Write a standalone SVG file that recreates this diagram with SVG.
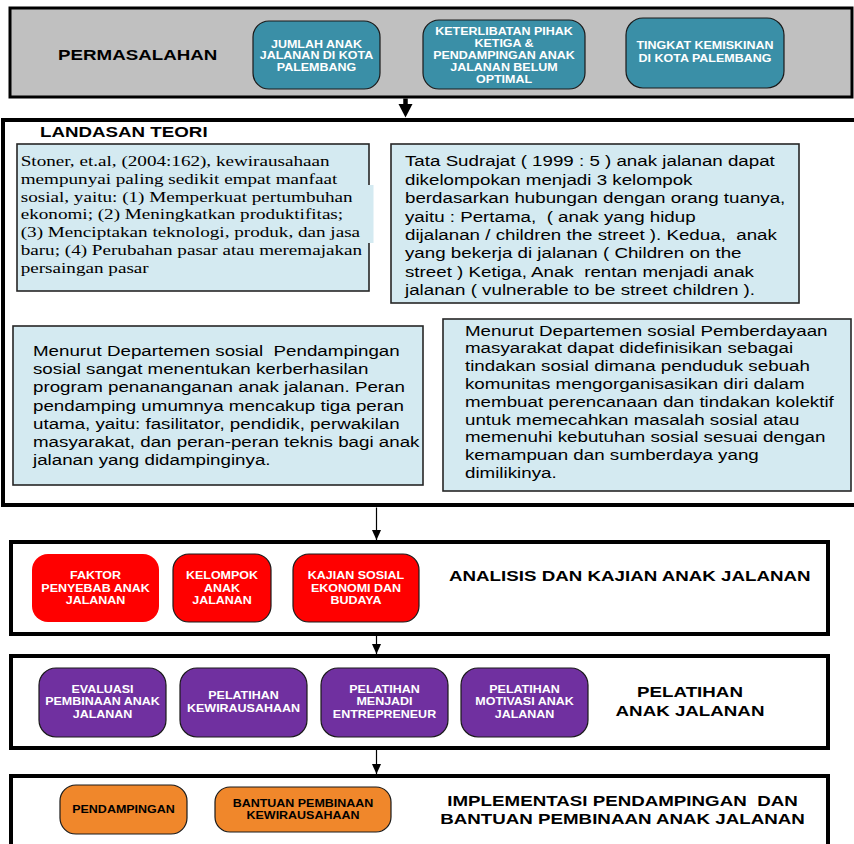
<svg xmlns="http://www.w3.org/2000/svg" width="854" height="844" viewBox="0 0 854 844">
<style>
text{white-space:pre}
.h{font-family:"Liberation Sans",Arial,sans-serif;font-weight:bold;font-size:15px;fill:#000}
.bx{font-family:"Liberation Sans",Arial,sans-serif;font-weight:bold;font-size:10px;text-anchor:middle;fill:#fff}
.bxk{font-family:"Liberation Sans",Arial,sans-serif;font-weight:bold;font-size:10px;text-anchor:middle;fill:#000}
.ser{font-family:"Liberation Serif","Times New Roman",serif;font-size:15.2px;fill:#000}
.san{font-family:"Liberation Sans",Arial,sans-serif;font-size:15px;fill:#000}
.sec{fill:#fff;stroke:#000;stroke-width:4}
.note{fill:#D4EAF1;stroke:#262626;stroke-width:1.6}
.teal{fill:#3A8FA7;stroke:#1a1a1a;stroke-width:1.2}
.red{fill:#FF0000;stroke:#1a1a1a;stroke-width:1.2}
.pur{fill:#7030A0;stroke:#1a1a1a;stroke-width:1.2}
.org{fill:#F0872B;stroke:#1a1a1a;stroke-width:1.2}
.conn{stroke:#000;stroke-width:1.2;fill:none}
</style>
<defs>
<marker id="ah" markerUnits="userSpaceOnUse" markerWidth="10" markerHeight="11" refX="11" refY="5" orient="auto" viewBox="0 0 11 10">
<path d="M0,0 L11,5 L0,10 z" fill="#000"/>
</marker>
</defs>

<g id="permasalahan">
<rect x="10" y="8" width="842" height="89" fill="#C0C0C0" stroke="#000" stroke-width="3"/>
<text class="h" transform="matrix(1.25 0 0 1 58 0)" x="0" y="60.5">PERMASALAHAN</text>
</g>
<g id="n-jumlah">
<rect class="teal" x="253" y="21" width="127" height="68" rx="16"/>
<text class="bx" transform="matrix(1.25 0 0 1 316.5 0)"><tspan x="0" y="48">JUMLAH ANAK</tspan><tspan x="0" y="59.5">JALANAN DI KOTA</tspan><tspan x="0" y="71">PALEMBANG</tspan></text>
</g>
<g id="n-keterlibatan">
<rect class="teal" x="423" y="20" width="162" height="69" rx="16"/>
<text class="bx" transform="matrix(1.25 0 0 1 504 0)"><tspan x="0" y="34.6">KETERLIBATAN PIHAK</tspan><tspan x="0" y="46.6">KETIGA &amp;</tspan><tspan x="0" y="58.6">PENDAMPINGAN ANAK</tspan><tspan x="0" y="70.6">JALANAN BELUM</tspan><tspan x="0" y="82.6">OPTIMAL</tspan></text>
</g>
<g id="n-kemiskinan">
<rect class="teal" x="626" y="18" width="158" height="70" rx="17"/>
<text class="bx" transform="matrix(1.25 0 0 1 705 0)"><tspan x="0" y="48.6">TINGKAT KEMISKINAN</tspan><tspan x="0" y="61.6">DI KOTA PALEMBANG</tspan></text>
</g>

<g id="landasan">
<rect class="sec" x="3" y="120" width="862" height="385" stroke-width="4.5"/>
<text class="h" transform="matrix(1.25 0 0 1 40 0)" x="0" y="137">LANDASAN TEORI</text>
</g>
<g id="teori-stoner">
<rect class="note" x="17" y="144" width="352" height="147"/>
<rect x="367.5" y="185" width="6" height="58" fill="#D4EAF1"/>
<text class="ser" transform="matrix(1.26 0 0 1 20.7 0)"><tspan x="0" y="166">Stoner, et.al, (2004:162), kewirausahaan</tspan><tspan x="0" y="183.8">mempunyai paling sedikit empat manfaat</tspan><tspan x="0" y="201.6">sosial, yaitu: (1) Memperkuat pertumbuhan</tspan><tspan x="0" y="219.4">ekonomi; (2) Meningkatkan produktifitas;</tspan><tspan x="0" y="237.2">(3) Menciptakan teknologi, produk, dan jasa</tspan><tspan x="0" y="255">baru; (4) Perubahan pasar atau meremajakan</tspan><tspan x="0" y="272.8">persaingan pasar</tspan></text>
</g>
<g id="teori-sudrajat">
<rect class="note" x="391" y="144" width="408" height="159"/>
<text class="san" transform="matrix(1.25 0 0 1 405 0)"><tspan x="0" y="166.5">Tata Sudrajat ( 1999 : 5 ) anak jalanan dapat</tspan><tspan x="0" y="184.9">dikelompokan menjadi 3 kelompok</tspan><tspan x="0" y="203.3">berdasarkan hubungan dengan orang tuanya,</tspan><tspan x="0" y="221.7">yaitu : Pertama,  ( anak yang hidup</tspan><tspan x="0" y="240.1">dijalanan / children the street ). Kedua,  anak</tspan><tspan x="0" y="258.5">yang bekerja di jalanan ( Children on the</tspan><tspan x="0" y="276.9">street ) Ketiga, Anak  rentan menjadi anak</tspan><tspan x="0" y="295.3">jalanan ( vulnerable to be street children ).</tspan></text>
</g>
<g id="teori-pendampingan">
<rect class="note" x="13" y="326" width="410" height="159"/>
<text class="san" transform="matrix(1.25 0 0 1 33 0)"><tspan x="0" y="356">Menurut Departemen sosial  Pendampingan</tspan><tspan x="0" y="374.2">sosial sangat menentukan kerberhasilan</tspan><tspan x="0" y="392.4">program penananganan anak jalanan. Peran</tspan><tspan x="0" y="410.6">pendamping umumnya mencakup tiga peran</tspan><tspan x="0" y="428.8">utama, yaitu: fasilitator, pendidik, perwakilan</tspan><tspan x="0" y="447">masyarakat, dan peran-peran teknis bagi anak</tspan><tspan x="0" y="465.2">jalanan yang didampinginya.</tspan></text>
</g>
<g id="teori-pemberdayaan">
<rect class="note" x="443" y="319" width="408" height="172"/>
<text class="san" transform="matrix(1.25 0 0 1 465 0)"><tspan x="0" y="335.6">Menurut Departemen sosial Pemberdayaan</tspan><tspan x="0" y="353.4">masyarakat dapat didefinisikan sebagai</tspan><tspan x="0" y="371.2">tindakan sosial dimana penduduk sebuah</tspan><tspan x="0" y="389">komunitas mengorganisasikan diri dalam</tspan><tspan x="0" y="406.8">membuat perencanaan dan tindakan kolektif</tspan><tspan x="0" y="424.6">untuk memecahkan masalah sosial atau</tspan><tspan x="0" y="442.4">memenuhi kebutuhan sosial sesuai dengan</tspan><tspan x="0" y="460.2">kemampuan dan sumberdaya yang</tspan><tspan x="0" y="478">dimilikinya.</tspan></text>
</g>

<g id="analisis">
<rect class="sec" x="11" y="542" width="817" height="92"/>
<text class="h" transform="matrix(1.25 0 0 1 449 0)" x="0" y="581">ANALISIS DAN KAJIAN ANAK JALANAN</text>
</g>
<g id="n-faktor">
<rect x="32" y="554" width="127" height="68" rx="16" fill="#FF0000"/>
<text class="bx" transform="matrix(1.25 0 0 1 95.5 0)"><tspan x="0" y="579.5">FAKTOR</tspan><tspan x="0" y="591.8">PENYEBAB ANAK</tspan><tspan x="0" y="604.1">JALANAN</tspan></text>
</g>
<g id="n-kelompok">
<rect class="red" x="173" y="554" width="98" height="68" rx="16"/>
<text class="bx" transform="matrix(1.25 0 0 1 222 0)"><tspan x="0" y="579.5">KELOMPOK</tspan><tspan x="0" y="591.8">ANAK</tspan><tspan x="0" y="604.1">JALANAN</tspan></text>
</g>
<g id="n-kajian">
<rect class="red" x="293" y="554" width="126" height="68" rx="16"/>
<text class="bx" transform="matrix(1.25 0 0 1 356 0)"><tspan x="0" y="579.5">KAJIAN SOSIAL</tspan><tspan x="0" y="591.8">EKONOMI DAN</tspan><tspan x="0" y="604.1">BUDAYA</tspan></text>
</g>

<g id="pelatihan">
<rect class="sec" x="11" y="656" width="817" height="92"/>
<text class="h" transform="matrix(1.25 0 0 1 690 0)" text-anchor="middle"><tspan x="0" y="697.5">PELATIHAN</tspan><tspan x="0" y="716">ANAK JALANAN</tspan></text>
</g>
<g id="n-evaluasi">
<rect class="pur" x="39" y="668" width="127" height="69" rx="17"/>
<text class="bx" transform="matrix(1.25 0 0 1 102.5 0)"><tspan x="0" y="692.9">EVALUASI</tspan><tspan x="0" y="705.3">PEMBINAAN ANAK</tspan><tspan x="0" y="717.6">JALANAN</tspan></text>
</g>
<g id="n-kewirausahaan">
<rect class="pur" x="180" y="668" width="127" height="69" rx="17"/>
<text class="bx" transform="matrix(1.25 0 0 1 243.5 0)"><tspan x="0" y="698.6">PELATIHAN</tspan><tspan x="0" y="711.9">KEWIRAUSAHAAN</tspan></text>
</g>
<g id="n-entrepreneur">
<rect class="pur" x="321" y="668" width="127" height="69" rx="17"/>
<text class="bx" transform="matrix(1.25 0 0 1 384.5 0)"><tspan x="0" y="692.9">PELATIHAN</tspan><tspan x="0" y="705.3">MENJADI</tspan><tspan x="0" y="717.6">ENTREPRENEUR</tspan></text>
</g>
<g id="n-motivasi">
<rect class="pur" x="461" y="668" width="127" height="69" rx="17"/>
<text class="bx" transform="matrix(1.25 0 0 1 524.5 0)"><tspan x="0" y="692.9">PELATIHAN</tspan><tspan x="0" y="705.3">MOTIVASI ANAK</tspan><tspan x="0" y="717.6">JALANAN</tspan></text>
</g>

<g id="implementasi">
<rect class="sec" x="11" y="776" width="817" height="90"/>
<text class="h" transform="matrix(1.25 0 0 1 622.5 0)" text-anchor="middle"><tspan x="0" y="806.5">IMPLEMENTASI PENDAMPINGAN  DAN</tspan><tspan x="0" y="824.5">BANTUAN PEMBINAAN ANAK JALANAN</tspan></text>
</g>
<g id="n-pendampingan">
<rect class="org" x="60" y="785" width="127" height="49" rx="16"/>
<text class="bxk" transform="matrix(1.25 0 0 1 123.5 0)" x="0" y="813">PENDAMPINGAN</text>
</g>
<g id="n-bantuan">
<rect class="org" x="215" y="787" width="176" height="45" rx="15"/>
<text class="bxk" transform="matrix(1.25 0 0 1 303 0)"><tspan x="0" y="806.9">BANTUAN PEMBINAAN</tspan><tspan x="0" y="818.6">KEWIRAUSAHAAN</tspan></text>
</g>

<g id="connectors">
<path d="M405.5 98.5 V106" stroke="#000" stroke-width="4.5" fill="none"/>
<polygon points="398.5,104 412.5,104 405.5,117.5" fill="#000"/>
<path class="conn" d="M376.5 507.5 V540" marker-end="url(#ah)"/>
<path class="conn" d="M376.5 636 V654" marker-end="url(#ah)"/>
<path class="conn" d="M376.5 750 V774" marker-end="url(#ah)"/>
</g>
</svg>
